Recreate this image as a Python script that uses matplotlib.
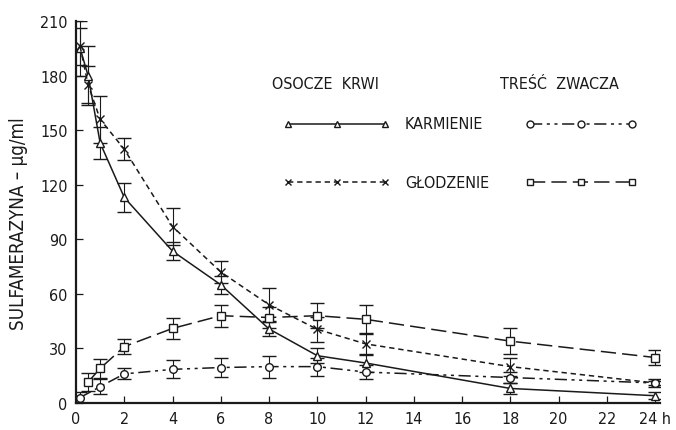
import numpy as np
import matplotlib
matplotlib.use("Agg")
import matplotlib.pyplot as plt
from matplotlib.lines import Line2D

plt.rcParams['font.family'] = ['DejaVu Sans']
plt.rcParams['font.stretch'] = 'condensed'

# ── dane ──────────────────────────────────────────────────────────
t_plasma = [0.17, 0.5, 1, 2, 4, 6, 8, 10, 12, 18, 24]
plasma_fed = [195, 180, 143, 113, 83.5, 65, 40.7, 26, 22, 8, 4]
plasma_fed_err = [15, 16, 9, 8, 5, 5, 4, 4, 5, 3, 2]
plasma_fast = [196, 175, 156, 139.5, 97, 72, 54, 40.5, 32.5, 20, 11]
plasma_fast_err = [10, 10, 13, 6, 10, 6, 9, 7, 6, 5, 2]

t_rumen_fast = [0.5, 1, 2, 4, 6, 8, 10, 12, 18, 24]
rumen_fast = [11.5, 19, 31, 41, 48, 47, 48, 46, 34, 25]
rumen_fast_err = [5, 5, 4, 6, 6, 6, 7, 8, 7, 4]

t_rumen_fed = [0.17, 1, 2, 4, 6, 8, 10, 12, 18, 24]
rumen_fed = [3, 9, 16, 18.5, 19.5, 20, 20, 17, 14, 11]
rumen_fed_err = [3, 4, 3, 5, 5, 6, 5, 4, 3, 1]

x_ticks = [0, 2, 4, 6, 8, 10, 12, 14, 16, 18, 20, 22, 24]
x_labels = ['0', '2', '4', '6', '8', '10', '12', '14', '16', '18', '20', '22', '24 h']
y_ticks = [0, 30, 60, 90, 120, 150, 180, 210]

# ── style ─────────────────────────────────────────────────────────
K = '#1a1a1a'
STY = {
    'plasma_fed':  dict(ls='-', marker='^'),
    'plasma_fast': dict(ls=(0, (3.5, 2.5)), marker='x'),
    'rumen_fed':   dict(ls=(0, (8, 3, 2, 3, 2, 3)), marker='o'),
    'rumen_fast':  dict(ls=(0, (10, 4)), marker='s'),
}

fig = plt.figure(figsize=(6.76, 4.31), dpi=100)
ax = fig.add_axes([76/676, 27/431, 584/676, 382/431])

series = [
    (t_plasma, plasma_fed, plasma_fed_err, 'plasma_fed'),
    (t_plasma, plasma_fast, plasma_fast_err, 'plasma_fast'),
    (t_rumen_fed, rumen_fed, rumen_fed_err, 'rumen_fed'),
    (t_rumen_fast, rumen_fast, rumen_fast_err, 'rumen_fast'),
]
for t, y, e, key in series:
    s = STY[key]
    ax.errorbar(t, y, yerr=e, color=K, lw=1.1, ls=s['ls'], marker=s['marker'],
                ms=5.5, mfc='white', mec=K, mew=1.0,
                ecolor=K, elinewidth=0.8, capsize=5, capthick=0.8)

ax.set_xlim(0, 24.2)
ax.set_ylim(0, 210)
ax.set_xticks(x_ticks)
ax.set_xticklabels(x_labels)
ax.set_yticks(y_ticks)
for sp in ['top', 'right']:
    ax.spines[sp].set_visible(False)
for sp in ['left', 'bottom']:
    ax.spines[sp].set_linewidth(1.6)
    ax.spines[sp].set_color(K)
ax.tick_params(direction='in', length=5, width=0.9, colors=K,
               labelsize=11.5, pad=6)

fig.text(0.027, 0.48, 'SULFAMERAZYNA – μg/ml', rotation=90,
         ha='center', va='center', fontsize=13.5, color=K)

# ── legenda (ręcznie, dwie kolumny) ───────────────────────────────
fig.text(0.481, 0.805, 'OSOCZE  KRWI', ha='center', va='center', fontsize=11.5, color=K)
fig.text(0.827, 0.805, 'TREŚĆ  ZWACZA', ha='center', va='center', fontsize=11.5, color=K)

rows = [(0.71, 'KARMIENIE', 'plasma_fed', 'rumen_fed'),
        (0.575, 'GŁODZENIE', 'plasma_fast', 'rumen_fast')]
for yy, lab, kl, kr in rows:
    for (x0, x1), key in [((0.426, 0.570), kl), ((0.784, 0.935), kr)]:
        s = STY[key]
        fig.add_artist(Line2D([x0, (x0 + x1) / 2, x1], [yy, yy, yy],
                              transform=fig.transFigure, color=K, lw=1.1,
                              ls=s['ls'], marker=s['marker'], ms=5,
                              mfc='white', mec=K, mew=1.0))
    fig.text(0.599, yy, lab, ha='left', va='center', fontsize=11.5, color=K)

fig.savefig('out.png', dpi=100, facecolor='white')
